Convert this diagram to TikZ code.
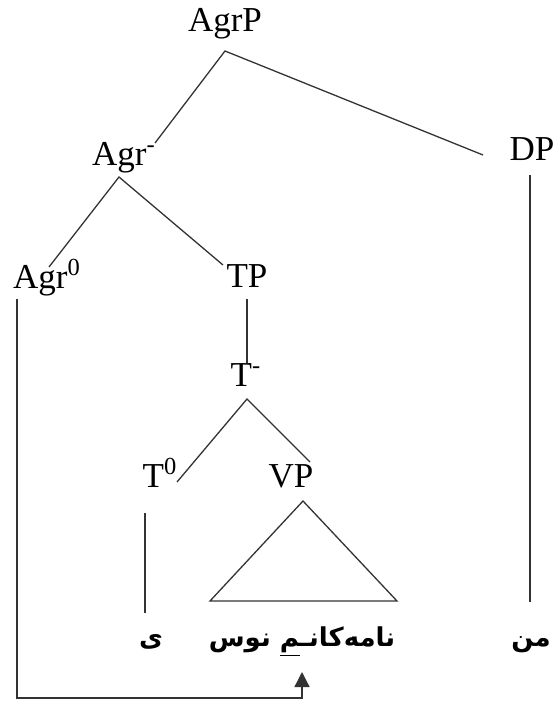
\documentclass[tikz,border=0pt]{standalone}
\usepackage{fontspec}
\setmainfont{Liberation Serif}
\newfontfamily\arabicfont[Script=Arabic]{DejaVu Sans}
\TeXXeTstate=1
\usetikzlibrary{arrows.meta}

\begin{document}
\begin{tikzpicture}[x=0.5pt,y=-0.5pt,
  lab/.style={inner sep=0pt,anchor=base,font=\fontsize{17.5}{21}\selectfont},
  word/.style={inner sep=0pt,anchor=base,font=\arabicfont\bfseries\fontsize{13}{16}\selectfont},
  branch/.style={line width=0.65pt,color=black!80}]
  \useasboundingbox (0,0) rectangle (559,701);

  % labels
  \node[lab] (agrp) at (225,32) {AgrP};
  \node[lab] (agrbar) at (124,165) {Agr\textsuperscript{-}};
  \node[lab] (dp) at (532,161) {DP};
  \node[lab] (agrzero) at (47,288) {Agr\textsuperscript{0}};
  \node[lab] (tp) at (247,287) {TP};
  \node[lab] (tbar) at (246,386) {T\textsuperscript{-}};
  \node[lab] (tzero) at (160,487) {T\textsuperscript{0}};
  \node[lab] (vp) at (291,487) {VP};

  % words
  \node[word] (yi) at (151,646) {\beginR ی\endR};
  \node[word] (verb) at (302,646) {\beginR نامەکانـ\underline{^^^^200dم} نوس\endR};
  \node[word] (min) at (531,646) {\beginR من\endR};

  % branch points
  \coordinate (agrp-foot) at (225,51);
  \coordinate (agrbar-head) at (155,143);
  \coordinate (dp-head) at (483,155);
  \coordinate (dp-foot) at (530,175);
  \coordinate (min-head) at (530,602);
  \coordinate (agrbar-foot) at (119,177);
  \coordinate (agrzero-head) at (49,267);
  \coordinate (tp-head) at (223,265);
  \coordinate (tp-foot) at (247,299);
  \coordinate (tbar-head) at (247,363);
  \coordinate (tbar-foot) at (247,399);
  \coordinate (tzero-head) at (177,482);
  \coordinate (vp-head) at (310,462);
  \coordinate (tzero-foot) at (145,513);
  \coordinate (yi-head) at (145,613);
  \coordinate (vp-foot) at (303,501);
  \coordinate (agrzero-foot) at (17,299);
  \coordinate (move-start) at (17,698);
  \coordinate (move-end) at (302,672);

  \draw[branch] (agrbar-head) -- (agrp-foot) -- (dp-head);
  \draw[branch] (agrzero-head) -- (agrbar-foot) -- (tp-head);
  \draw[branch] (tp-foot) -- (tbar-head);
  \draw[branch] (tzero-head) -- (tbar-foot) -- (vp-head);
  \draw[branch] (tzero-foot) -- (yi-head);
  \draw[branch] (dp-foot) -- (min-head);
  \draw[branch] (vp-foot) -- (210,601) -- (397,601) -- cycle;

  \draw[branch,-{Triangle[width=7.5pt,length=7.5pt]}] (agrzero-foot) -- (move-start) -| (move-end);
\end{tikzpicture}
\end{document}
